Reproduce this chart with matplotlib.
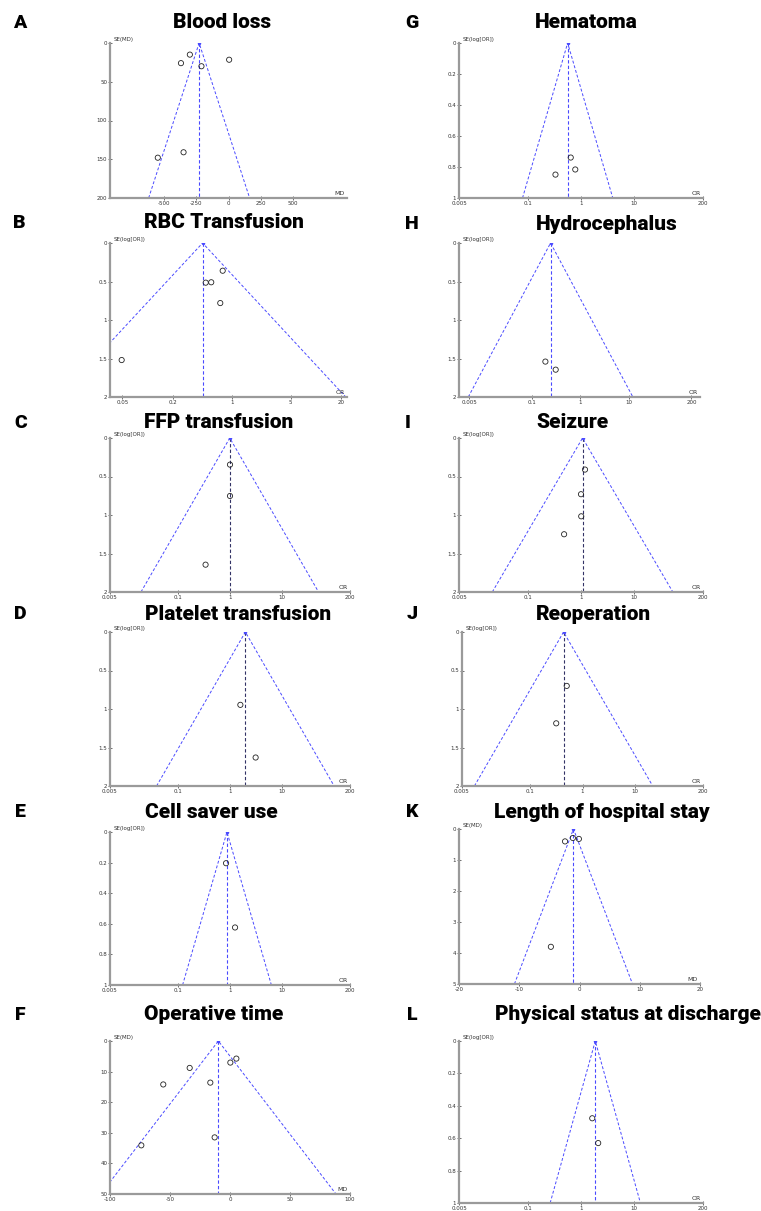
import matplotlib
matplotlib.use('Agg')
import matplotlib.pyplot as plt
from matplotlib.ticker import NullLocator
import numpy as np

W, H = 761, 1211

# ---- data ----
# A Blood loss (MD)
blood_md = [-300, -369, -210, 5, -349, -549]
blood_se = [15, 26, 30, 21.6, 141, 148]
blood_pooled = -228
# B RBC transfusion (OR)
rbc_or = [0.78, 0.49, 0.57, 0.73, 0.049]
rbc_se = [0.36, 0.515, 0.51, 0.78, 1.52]
rbc_pooled = 0.45
# C FFP transfusion (OR)
ffp_or = [1.0, 1.0, 0.34]
ffp_se = [0.346, 0.753, 1.645]
ffp_pooled = 0.99
# D Platelet transfusion (OR)
plt_or = [1.58, 3.1]
plt_se = [0.946, 1.63]
plt_pooled = 1.97
# E Cell saver use (OR)
cell_or = [0.84, 1.25]
cell_se = [0.204, 0.624]
cell_pooled = 0.875
# F Operative time (MD)
op_md = [-33.6, -55.6, -16.4, 0.3, 5.3, -12.8, -73.9]
op_se = [8.8, 14.2, 13.6, 7.05, 5.75, 31.5, 34.1]
op_pooled = -9.7
# G Hematoma (OR)
hem_or = [0.64, 0.78, 0.33]
hem_se = [0.739, 0.816, 0.849]
hem_pooled = 0.56
# H Hydrocephalus (OR)
hyd_or = [0.19, 0.31]
hyd_se = [1.54, 1.645]
hyd_pooled = 0.243
# I Seizure (OR)
sei_or = [1.19, 1.0, 1.01, 0.48]
sei_se = [0.41, 0.73, 1.017, 1.25]
sei_pooled = 1.07
# J Reoperation (OR)
reop_or = [0.50, 0.315]
reop_se = [0.70, 1.186]
reop_pooled = 0.435
# K Length of hospital stay (MD)
los_md = [-2.4, -1.1, -0.1, -4.75]
los_se = [0.40, 0.29, 0.32, 3.80]
los_pooled = -1.0
# L Physical status at discharge (OR)
phys_or = [1.63, 2.11]
phys_se = [0.477, 0.63]
phys_pooled = 1.86

or_ticks = [0.005, 0.1, 1, 10, 200]
or_labels = ['0.005', '0.1', '1', '10', '200']
se2_ticks = [0, 0.5, 1, 1.5, 2]
se2_labels = ['0', '0.5', '1', '1.5', '2']
se1_ticks = [0, 0.2, 0.4, 0.6, 0.8, 1]
se1_labels = ['0', '0.2', '0.4', '0.6', '0.8', '1']

BLUE = '#4a4aff'
DARK = '#333366'
GRAY = '#9a9a9a'

fig = plt.figure(figsize=(W / 100, H / 100), dpi=100)
fig.patch.set_facecolor('white')


def funnel(box, est, se, pooled, se_max, xlim, xticks, xlabels, yticks, ylabels,
           log=True, measure='OR', center=BLUE):
    l, t, r, b = box
    ax = fig.add_axes([l / W, 1 - b / H, (r - l) / W, (b - t) / H])
    if log:
        ax.set_xscale('log')
        lo = np.exp(np.log(pooled) - 1.96 * se_max)
        hi = np.exp(np.log(pooled) + 1.96 * se_max)
    else:
        lo = pooled - 1.96 * se_max
        hi = pooled + 1.96 * se_max
    ax.set_xlim(xlim)
    ax.set_ylim(se_max, 0)
    ax.plot([lo, pooled, hi], [se_max, 0, se_max], color=BLUE, lw=0.7,
            ls=(0, (3, 2)))
    ax.plot([pooled, pooled], [0, se_max], color=center, lw=0.8, ls=(0, (3, 2)))
    ax.plot([pooled], [0], marker='o', ms=1.5, color=BLUE)
    ax.scatter(est, se, s=14, facecolors='none', edgecolors='#222222',
               linewidths=0.6, zorder=3, clip_on=False)
    ax.set_xticks(xticks)
    ax.set_xticklabels(xlabels)
    ax.xaxis.set_minor_locator(NullLocator())
    ax.set_yticks(yticks)
    ax.set_yticklabels(ylabels)
    for s in ['top', 'right']:
        ax.spines[s].set_visible(False)
    for s in ['left', 'bottom']:
        ax.spines[s].set_color(GRAY)
        ax.spines[s].set_linewidth(1.6)
    ax.tick_params(labelsize=4, length=3, width=0.6, color='#555555',
                   labelcolor='#333333', pad=0.5, direction='inout')
    ylab = 'SE(MD)' if measure == 'MD' else 'SE(log[OR])'
    ax.text(0.015, 1.02, ylab, transform=ax.transAxes, fontsize=4,
            ha='left', va='center', color='#333333')
    ax.text(0.99, 0.015, measure, transform=ax.transAxes, fontsize=4.5,
            ha='right', va='bottom', color='#333333')
    return ax


def heading(letter, lx, title, tx, y):
    fig.text(lx / W, 1 - y / H, letter, fontsize=14, fontweight='heavy',
             family='Roboto', ha='center', va='center')
    fig.text(tx / W, 1 - y / H, title, fontsize=15, fontweight='heavy',
             family='Roboto', ha='center', va='center')


# left column
funnel((110, 43, 347, 198), blood_md, blood_se, blood_pooled, 200, (-920, 920),
       [-500, -250, 0, 250, 500], ['-500', '-250', '0', '250', '500'],
       [0, 50, 100, 150, 200], ['0', '50', '100', '150', '200'],
       log=False, measure='MD')
heading('A', 20, 'Blood loss', 222, 23)

funnel((110, 243, 347, 397), rbc_or, rbc_se, rbc_pooled, 2, (0.0356, 23.5),
       [0.05, 0.2, 1, 5, 20], ['0.05', '0.2', '1', '5', '20'],
       se2_ticks, se2_labels)
heading('B', 19, 'RBC Transfusion', 224, 223)

funnel((110, 438, 350, 592), ffp_or, ffp_se, ffp_pooled, 2, (0.005, 200),
       or_ticks, or_labels, se2_ticks, se2_labels, center=DARK)
heading('C', 21, 'FFP transfusion', 219, 423)

funnel((110, 632, 350, 786), plt_or, plt_se, plt_pooled, 2, (0.005, 200),
       or_ticks, or_labels, se2_ticks, se2_labels, center=DARK)
heading('D', 20, 'Platelet transfusion', 238, 614)

funnel((110, 832, 350, 985), cell_or, cell_se, cell_pooled, 1, (0.005, 200),
       or_ticks, or_labels, se1_ticks, se1_labels)
heading('E', 20, 'Cell saver use', 211, 812)

funnel((110, 1041, 350, 1194), op_md, op_se, op_pooled, 50, (-100, 100),
       [-100, -50, 0, 50, 100], ['-100', '-50', '0', '50', '100'],
       [0, 10, 20, 30, 40, 50], ['0', '10', '20', '30', '40', '50'],
       log=False, measure='MD')
heading('F', 20, 'Operative time', 214, 1015)

# right column
funnel((459, 43, 703, 198), hem_or, hem_se, hem_pooled, 1, (0.005, 200),
       or_ticks, or_labels, se1_ticks, se1_labels)
heading('G', 412, 'Hematoma', 586, 23)

funnel((459, 243, 700, 397), hyd_or, hyd_se, hyd_pooled, 2, (0.0031, 300),
       or_ticks, or_labels, se2_ticks, se2_labels)
heading('H', 412, 'Hydrocephalus', 607, 224)

funnel((459, 438, 703, 592), sei_or, sei_se, sei_pooled, 2, (0.005, 200),
       or_ticks, or_labels, se2_ticks, se2_labels, center=DARK)
heading('I', 408, 'Seizure', 572, 423)

funnel((462, 632, 703, 786), reop_or, reop_se, reop_pooled, 2, (0.005, 200),
       or_ticks, or_labels, se2_ticks, se2_labels, center=DARK)
heading('J', 412, 'Reoperation', 593, 614)

funnel((459, 829, 700, 984), los_md, los_se, los_pooled, 5, (-20, 20),
       [-20, -10, 0, 10, 20], ['-20', '-10', '0', '10', '20'],
       [0, 1, 2, 3, 4, 5], ['0', '1', '2', '3', '4', '5'],
       log=False, measure='MD')
heading('K', 412, 'Length of hospital stay', 602, 812)

funnel((459, 1041, 703, 1203), phys_or, phys_se, phys_pooled, 1, (0.005, 200),
       or_ticks, or_labels, se1_ticks, se1_labels)
heading('L', 412, 'Physical status at discharge', 628, 1015)

fig.savefig('out.png', dpi=100, facecolor='white')
